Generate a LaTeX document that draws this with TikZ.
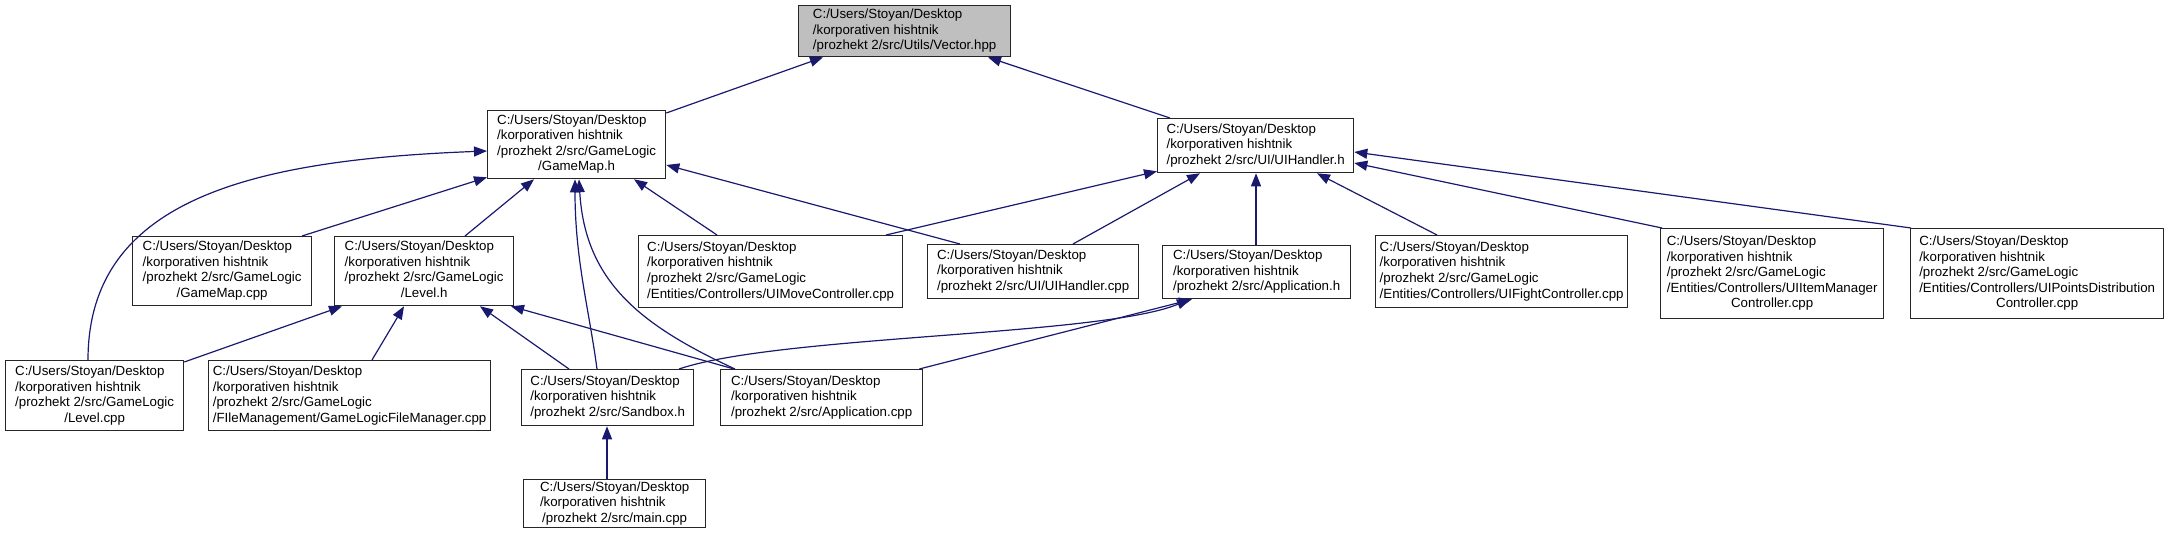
\documentclass[tikz,border=0pt]{standalone}
\usepackage{fontspec}
\setmainfont{Liberation Sans}
\usetikzlibrary{arrows.meta,calc}
\definecolor{edgec}{HTML}{191970}
\definecolor{rootfill}{HTML}{BFBFBF}
\newcommand{\ctrline}[1]{\multicolumn{1}{@{}c@{}}{#1}}
\newcommand{\flines}[1]{\begin{tabular}{@{}l@{}}#1\end{tabular}}
\tikzset{
  filebox/.style={draw=black!85, line width=1.3bp, fill=white, inner sep=0pt,
    anchor=north west, font=\fontsize{13.3bp}{15.5bp}\selectfont},
  rootbox/.style={filebox, fill=rootfill},
  dep/.style={draw=edgec, line width=1.2bp, -{Triangle[length=13bp,width=10bp]}}
}
\begin{document}
\begin{tikzpicture}[x=1bp,y=-1bp]
\useasboundingbox (0,0) rectangle (2171,541);
% nodes
\node[rootbox, minimum width=212bp, minimum height=51bp] (vec) at (798,5)
  {\flines{C:/Users/Stoyan/Desktop\\/korporativen hishtnik\\/prozhekt 2/src/Utils/Vector.hpp}};
\node[filebox, minimum width=178bp, minimum height=68bp] (gmh) at (487,110)
  {\flines{C:/Users/Stoyan/Desktop\\/korporativen hishtnik\\/prozhekt 2/src/GameLogic\\\ctrline{/GameMap.h}}};
\node[filebox, minimum width=196bp, minimum height=54bp] (uih) at (1157,118)
  {\flines{C:/Users/Stoyan/Desktop\\/korporativen hishtnik\\/prozhekt 2/src/UI/UIHandler.h}};
\node[filebox, minimum width=179bp, minimum height=69bp] (gmcpp) at (132,236)
  {\flines{C:/Users/Stoyan/Desktop\\/korporativen hishtnik\\/prozhekt 2/src/GameLogic\\\ctrline{/GameMap.cpp}}};
\node[filebox, minimum width=179bp, minimum height=69bp] (lvh) at (334,236)
  {\flines{C:/Users/Stoyan/Desktop\\/korporativen hishtnik\\/prozhekt 2/src/GameLogic\\\ctrline{/Level.h}}};
\node[filebox, minimum width=178bp, minimum height=70bp] (lvcpp) at (5,360)
  {\flines{C:/Users/Stoyan/Desktop\\/korporativen hishtnik\\/prozhekt 2/src/GameLogic\\\ctrline{/Level.cpp}}};
\node[filebox, minimum width=282bp, minimum height=70bp] (fm) at (208,360)
  {\flines{C:/Users/Stoyan/Desktop\\/korporativen hishtnik\\/prozhekt 2/src/GameLogic\\/FIleManagement/GameLogicFileManager.cpp}};
\node[filebox, minimum width=172bp, minimum height=56bp] (sbh) at (521,369)
  {\flines{C:/Users/Stoyan/Desktop\\/korporativen hishtnik\\/prozhekt 2/src/Sandbox.h}};
\node[filebox, minimum width=202bp, minimum height=56bp] (appcpp) at (720,369)
  {\flines{C:/Users/Stoyan/Desktop\\/korporativen hishtnik\\/prozhekt 2/src/Application.cpp}};
\node[filebox, minimum width=182bp, minimum height=48bp] (main) at (523,479)
  {\flines{C:/Users/Stoyan/Desktop\\/korporativen hishtnik\\\ctrline{/prozhekt 2/src/main.cpp}}};
\node[filebox, minimum width=264bp, minimum height=72bp] (umc) at (638,235)
  {\flines{C:/Users/Stoyan/Desktop\\/korporativen hishtnik\\/prozhekt 2/src/GameLogic\\/Entities/Controllers/UIMoveController.cpp}};
\node[filebox, minimum width=211bp, minimum height=54bp] (uihcpp) at (927,244)
  {\flines{C:/Users/Stoyan/Desktop\\/korporativen hishtnik\\/prozhekt 2/src/UI/UIHandler.cpp}};
\node[filebox, minimum width=188bp, minimum height=53bp] (apph) at (1162,245)
  {\flines{C:/Users/Stoyan/Desktop\\/korporativen hishtnik\\/prozhekt 2/src/Application.h}};
\node[filebox, minimum width=252bp, minimum height=72bp] (ufc) at (1375,235)
  {\flines{C:/Users/Stoyan/Desktop\\/korporativen hishtnik\\/prozhekt 2/src/GameLogic\\/Entities/Controllers/UIFightController.cpp}};
\node[filebox, minimum width=223bp, minimum height=90bp] (uim) at (1660,228)
  {\flines{C:/Users/Stoyan/Desktop\\/korporativen hishtnik\\/prozhekt 2/src/GameLogic\\/Entities/Controllers/UIItemManager\\\ctrline{Controller.cpp}}};
\node[filebox, minimum width=253bp, minimum height=90bp] (upd) at (1910,228)
  {\flines{C:/Users/Stoyan/Desktop\\/korporativen hishtnik\\/prozhekt 2/src/GameLogic\\/Entities/Controllers/UIPointsDistribution\\\ctrline{Controller.cpp}}};
% edges
\draw[dep] ($(gmh.north east)+(0,3)$) -- ($(vec.south west)+(25,0)$);
\draw[dep] ($(uih.north west)+(13,0)$) -- ($(vec.south west)+(190,0)$);
\draw[dep] ($(gmcpp.north west)+(170,0)$) -- ($(gmh.south west)+(0,-2)$);
\draw[dep] ($(lvcpp.north west)+(83,0)$) .. controls +(0,-160) and +(-237,9) .. ($(gmh.north west)+(0,41)$);
\draw[dep] ($(lvh.north west)+(131,0)$) -- ($(gmh.south west)+(47,0)$);
\draw[dep] ($(sbh.north west)+(76,0)$) .. controls +(-8,-60) and +(0,80) .. ($(gmh.south west)+(88,0)$);
\draw[dep] ($(appcpp.north west)+(15,0)$) .. controls +(-95,-44) and +(6,102) .. ($(gmh.south west)+(92,0)$);
\draw[dep] ($(umc.north west)+(79,0)$) -- ($(gmh.south west)+(147,0)$);
\draw[dep] ($(uihcpp.north west)+(33,0)$) -- ($(gmh.north east)+(0,55)$);
\draw[dep] ($(umc.north west)+(248,0)$) -- ($(uih.south west)+(0,-2)$);
\draw[dep] ($(uihcpp.north west)+(146,0)$) -- ($(uih.south west)+(43,0)$);
\draw[dep] ($(apph.north west)+(94,0)$) -- ($(uih.south west)+(99,0)$);
\draw[dep] ($(ufc.north west)+(62,0)$) -- ($(uih.south west)+(160,0)$);
\draw[dep] ($(uim.north west)+(2,0)$) -- ($(uih.north east)+(0,45)$);
\draw[dep] ($(upd.north west)+(1,0)$) -- ($(uih.north east)+(0,34)$);
\draw[dep] ($(lvcpp.north east)+(0,2)$) -- ($(lvh.south west)+(8,0)$);
\draw[dep] ($(fm.north west)+(164,0)$) -- ($(lvh.south west)+(70,0)$);
\draw[dep] ($(sbh.north west)+(48,0)$) -- ($(lvh.south west)+(146,0)$);
\draw[dep] ($(appcpp.north west)+(14,0)$) -- ($(lvh.south west)+(177,0)$);
\draw[dep] ($(sbh.north west)+(158,0)$) .. controls +(101,-34) and +(-90,37) .. ($(apph.south west)+(28,0)$);
\draw[dep] ($(appcpp.north east)+(-4,0)$) -- ($(apph.south west)+(30,0)$);
\draw[dep] ($(main.north west)+(84,0)$) -- ($(sbh.south west)+(86,0)$);
\end{tikzpicture}
\end{document}
